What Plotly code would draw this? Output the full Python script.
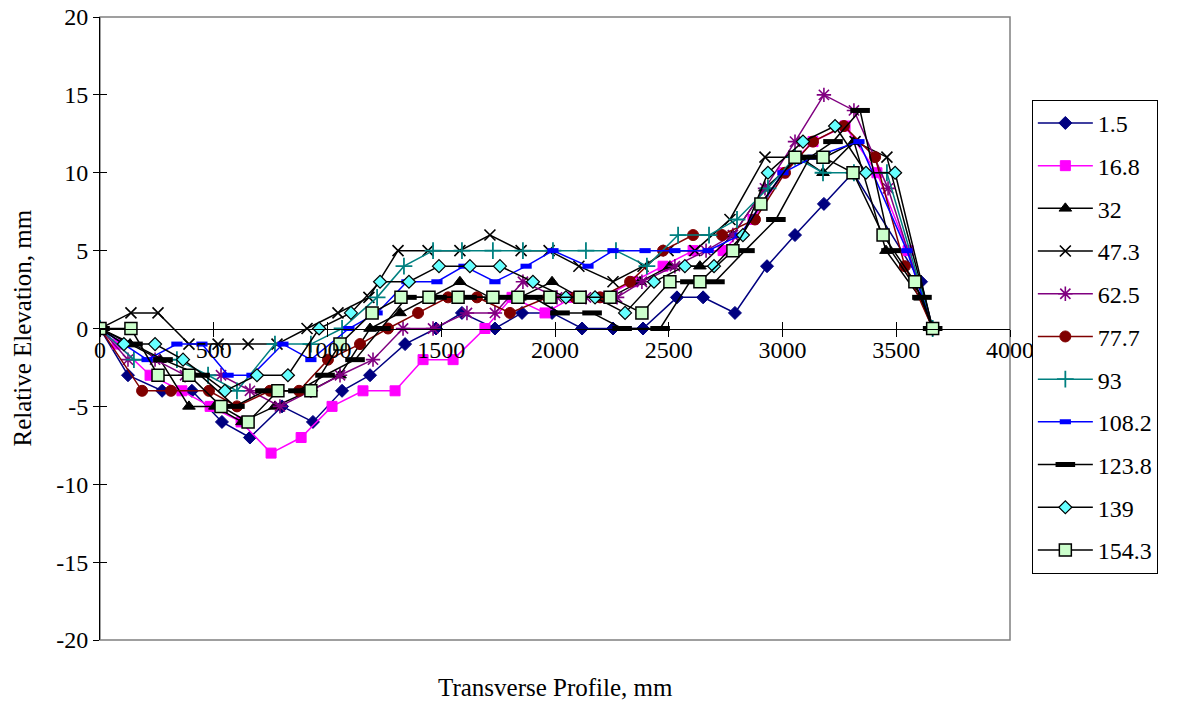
import plotly.graph_objects as go

# ---- data (x: transverse position in mm, y: relative elevation in mm) ----
names = ["1.5", "16.8", "32", "47.3", "62.5", "77.7", "93", "108.2", "123.8", "139", "154.3"]

x_1_5 = [0, 123, 273, 404, 536, 659, 800, 936, 1064, 1187, 1341, 1477, 1591, 1736, 1855, 1987, 2119, 2255, 2387, 2536, 2651, 2791, 2932, 3055, 3182, 3310, 3609, 3660]
y_1_5 = [0, -3, -4, -4, -6, -7, -5, -6, -4, -3, -1, 0, 1, 0, 1, 1, 0, 0, 0, 2, 2, 1, 4, 6, 8, 10, 3, 0]

x_16_8 = [0, 75, 220, 360, 484, 620, 752, 884, 1020, 1156, 1297, 1420, 1552, 1692, 1811, 1956, 2079, 2211, 2343, 2475, 2607, 2739, 2870, 3002, 3134, 3275, 3415, 3552, 3660]
y_16_8 = [0, -1, -3, -4, -5, -6, -8, -7, -5, -4, -4, -2, -2, 0, 2, 1, 2, 2, 3, 4, 5, 5, 7, 10, 12, 13, 10, 5, 0]

x_32 = [0, 132, 264, 391, 505, 624, 769, 923, 1055, 1187, 1319, 1451, 1582, 1714, 1846, 1987, 2110, 2242, 2374, 2505, 2637, 2782, 2923, 3077, 3178, 3314, 3455, 3604, 3660]
y_32 = [0, -1, -2, -5, -5, -6, -5, -4, -3, 0, 1, 2, 3, 2, 2, 3, 2, 2, 3, 4, 4, 6, 9, 11, 10, 12, 5, 2, 0]

x_47_3 = [0, 136, 255, 391, 519, 651, 778, 910, 1046, 1182, 1310, 1442, 1582, 1714, 1851, 1974, 2105, 2255, 2387, 2497, 2615, 2769, 2923, 3055, 3187, 3319, 3459, 3660]
y_47_3 = [0, 1, 1, -1, -1, -1, -1, 0, 1, 2, 5, 5, 5, 6, 5, 5, 4, 3, 4, 5, 5, 7, 11, 11, 11, 12, 11, 0]

x_62_5 = [0, 123, 242, 374, 532, 659, 791, 927, 1055, 1200, 1332, 1464, 1613, 1736, 1859, 2009, 2136, 2273, 2382, 2527, 2664, 2782, 2923, 3055, 3182, 3314, 3464, 3660]
y_62_5 = [0, -2, -2, -3, -3, -4, -5, -4, -3, -2, 0, 0, 1, 1, 3, 2, 2, 2, 3, 4, 5, 6, 9, 12, 15, 14, 9, 0]

x_77_7 = [0, 185, 312, 479, 602, 747, 875, 1002, 1143, 1266, 1398, 1530, 1657, 1802, 1969, 2088, 2198, 2330, 2475, 2607, 2734, 2879, 3011, 3134, 3270, 3407, 3538, 3660]
y_77_7 = [0, -4, -4, -4, -5, -4, -4, -2, -1, 0, 1, 2, 2, 1, 2, 2, 2, 3, 5, 6, 6, 7, 10, 12, 13, 11, 4, 0]

x_93 = [0, 149, 338, 475, 602, 769, 927, 1064, 1218, 1336, 1464, 1591, 1727, 1859, 1991, 2136, 2268, 2404, 2541, 2677, 2800, 2936, 3055, 3178, 3314, 3459, 3660]
y_93 = [0, -2, -2, -3, -4, -1, -1, 0, 2, 4, 5, 5, 5, 5, 5, 5, 5, 4, 6, 6, 7, 9, 11, 10, 10, 10, 0]

x_108_2 = [0, 207, 338, 448, 563, 668, 804, 927, 1094, 1218, 1349, 1481, 1600, 1736, 1873, 1991, 2145, 2255, 2396, 2527, 2673, 2813, 3002, 3134, 3336, 3547, 3660]
y_108_2 = [0, -2, -1, -1, -3, -3, -1, -2, 0, 1, 3, 3, 4, 3, 4, 5, 4, 5, 5, 5, 5, 6, 10, 11, 12, 5, 0]

x_123_8 = [0, 145, 277, 440, 593, 725, 870, 989, 1121, 1235, 1349, 1481, 1613, 1771, 1903, 2022, 2163, 2295, 2462, 2593, 2703, 2835, 2971, 3121, 3222, 3341, 3477, 3613, 3660]
y_123_8 = [0, -1, -2, -3, -5, -4, -4, -3, -2, 0, 2, 2, 2, 2, 2, 1, 1, 0, 0, 3, 3, 5, 7, 11, 12, 14, 5, 2, 0]

x_139 = [0, 105, 242, 365, 549, 690, 826, 963, 1103, 1231, 1358, 1490, 1626, 1758, 1903, 2048, 2176, 2308, 2435, 2571, 2699, 2826, 2936, 3090, 3231, 3367, 3495, 3660]
y_139 = [0, -1, -1, -2, -4, -3, -3, 0, 1, 3, 3, 4, 4, 4, 3, 2, 2, 1, 3, 4, 4, 6, 10, 12, 13, 10, 10, 0]

x_154_3 = [0, 136, 255, 391, 532, 651, 782, 927, 1055, 1196, 1323, 1446, 1574, 1727, 1837, 1978, 2110, 2242, 2382, 2505, 2637, 2782, 2905, 3055, 3178, 3310, 3442, 3582, 3660]
y_154_3 = [0, 0, -3, -3, -5, -6, -4, -4, -1, 1, 2, 2, 2, 2, 2, 2, 2, 2, 1, 3, 3, 5, 8, 11, 11, 10, 6, 3, 0]

xs = [x_1_5, x_16_8, x_32, x_47_3, x_62_5, x_77_7, x_93, x_108_2, x_123_8, x_139, x_154_3]
ys = [y_1_5, y_16_8, y_32, y_47_3, y_62_5, y_77_7, y_93, y_108_2, y_123_8, y_139, y_154_3]

x_ticks = [0, 500, 1000, 1500, 2000, 2500, 3000, 3500, 4000]
x_tick_labels = ["0", "500", "1000", "1500", "2000", "2500", "3000", "3500", "4000"]
y_ticks = [-20, -15, -10, -5, 0, 5, 10, 15, 20]
y_tick_labels = ["-20", "-15", "-10", "-5", "0", "5", "10", "15", "20"]

# ---- styles ----
styles = [
    dict(line="#000080", marker=dict(symbol="diamond", size=10, color="#000080", line=dict(color="#000080", width=1))),
    dict(line="#FF00FF", marker=dict(symbol="square", size=10, color="#FF00FF", line=dict(color="#FF00FF", width=1))),
    dict(line="#000000", marker=dict(symbol="triangle-up", size=11, color="#000000", line=dict(color="#000000", width=1))),
    dict(line="#000000", marker=dict(symbol="x-thin-open", size=11, color="#000000", line=dict(color="#000000", width=1.6))),
    dict(line="#800080", marker=dict(symbol="asterisk-open", size=12, color="#800080", line=dict(color="#800080", width=1.6))),
    dict(line="#800000", marker=dict(symbol="circle", size=11, color="#800000", line=dict(color="#800000", width=1))),
    dict(line="#008080", marker=dict(symbol="cross-thin-open", size=12, color="#008080", line=dict(color="#008080", width=1.8))),
    dict(line="#0000FF", marker=dict(symbol="line-ew-open", size=8, color="#0000FF", line=dict(color="#0000FF", width=5))),
    dict(line="#000000", marker=dict(symbol="line-ew-open", size=14, color="#000000", line=dict(color="#000000", width=5))),
    dict(line="#000000", marker=dict(symbol="diamond", size=10, color="#66FFFF", line=dict(color="#000000", width=1.2))),
    dict(line="#000000", marker=dict(symbol="square", size=12, color="#CCFFCC", line=dict(color="#000000", width=1.5))),
]

FONT = "Liberation Serif, Times New Roman, serif"
FS = 24

fig = go.Figure()
for i, (name, x, y, st) in enumerate(zip(names, xs, ys, styles)):
    fig.add_trace(go.Scatter(
        x=x, y=y, name=name, mode="lines+markers",
        line=dict(color=st["line"], width=1.5),
        marker=st["marker"], legendgroup=name,
    ))

# invisible helper traces so overlay axes (tick halves) render
fig.add_trace(go.Scatter(x=[], y=[], xaxis="x2", yaxis="y2", showlegend=False, hoverinfo="skip"))
fig.add_trace(go.Scatter(x=[], y=[], xaxis="x3", yaxis="y", showlegend=False, hoverinfo="skip"))

axis_common = dict(showgrid=False, zeroline=False, linecolor="#000000", linewidth=1,
                   tickcolor="#000000", tickwidth=1, automargin=False,
                   ticklabeloverflow="allow",
                   tickfont=dict(family=FONT, size=FS, color="#000000"))

tick_only = dict(showticklabels=False, showline=False, showgrid=False, zeroline=False,
                 automargin=False, tickcolor="#000000", tickwidth=1)

# page body has an 8px default margin, so the figure is sized/offset to compensate
fig.update_layout(
    width=1188, height=697,
    margin=dict(l=92, r=186, t=9, b=65, autoexpand=False),
    paper_bgcolor="white", plot_bgcolor="white",
    font=dict(family=FONT, size=FS, color="#000000"),
    # main x axis: line + labels only (labels sit right under the zero line)
    xaxis=dict(range=[0, 4000], tickvals=x_ticks, ticktext=x_tick_labels, ticks="",
               showline=True, anchor="free", position=0.5, **axis_common),
    yaxis=dict(range=[-20, 20], tickvals=y_ticks, ticktext=y_tick_labels, ticks="outside", ticklen=6,
               showline=True, **axis_common),
    # tick halves making the marks cross the axis lines
    xaxis2=dict(range=[0, 4000], tickvals=x_ticks, ticks="inside", ticklen=7,
                overlaying="x", anchor="free", position=0.5, **tick_only),
    xaxis3=dict(range=[0, 4000], tickvals=x_ticks, ticks="outside", ticklen=7,
                overlaying="x", anchor="free", position=0.5, **tick_only),
    yaxis2=dict(range=[-20, 20], tickvals=y_ticks, ticks="inside", ticklen=7,
                overlaying="y", side="left", anchor="x", **tick_only),
    legend=dict(x=1.024, y=0.867, xanchor="left", yanchor="top",
                bordercolor="#000000", borderwidth=1, bgcolor="white",
                font=dict(family=FONT, size=FS, color="#000000"),
                tracegroupgap=8.5, itemwidth=55),
    showlegend=True,
    shapes=[dict(type="rect", xref="paper", yref="paper", x0=0, x1=1, y0=0, y1=1,
                 line=dict(color="#808080", width=1.5), layer="below")],
    annotations=[
        dict(text="Transverse Profile, mm", x=0.5, y=-0.077, xref="paper", yref="paper",
             xanchor="center", yanchor="middle", showarrow=False,
             font=dict(family=FONT, size=25, color="#000000")),
        dict(text="Relative Elevation, mm", x=-0.0857, y=0.5, xref="paper", yref="paper",
             xanchor="center", yanchor="middle", showarrow=False, textangle=-90,
             font=dict(family=FONT, size=25, color="#000000")),
    ],
)

fig.write_html("out.html")
